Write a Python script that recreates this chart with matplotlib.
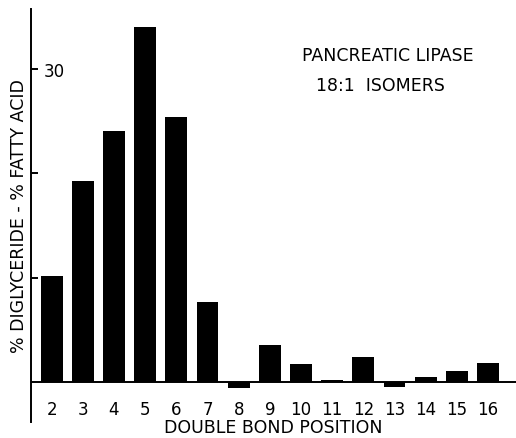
import numpy as np
import matplotlib
matplotlib.use('Agg')
import matplotlib.pyplot as plt

# double bond position of the 18:1 isomer
positions = [2, 3, 4, 5, 6, 7, 8, 9, 10, 11, 12, 13, 14, 15, 16]
# % diglyceride - % fatty acid
diff = [10.15, 19.25, 24.1, 34.0, 25.4, 7.7, -0.57, 3.6, 1.75, 0.25,
        2.45, -0.42, 0.48, 1.05, 1.82]
ytick_vals = [10, 20, 30]
ytick_labels = ['', '', '30']

plt.rcParams['font.family'] = 'DejaVu Sans'

fig = plt.figure(figsize=(5.16, 4.39), dpi=100)
ax = fig.add_axes([0.060, 0.0364, 0.94, 0.941])

ax.bar(positions, diff, width=0.70, color='black', zorder=2)
ax.axhline(0, color='black', lw=1.4, zorder=3)

ax.set_xlim(1.336, 16.9)
ax.set_ylim(-3.8, 35.75)

for s in ['top', 'right', 'bottom']:
    ax.spines[s].set_visible(False)
ax.spines['left'].set_linewidth(1.4)

ax.set_xticks(positions)
ax.set_xticklabels([str(p) for p in positions])
ax.tick_params(axis='x', length=0, pad=-15.5, labelsize=12)

ax.set_yticks(ytick_vals)
ax.set_yticklabels(ytick_labels)
ax.tick_params(axis='y', direction='in', length=5, width=1.4, pad=-9, labelsize=12)
for lab in ax.get_yticklabels():
    lab.set_horizontalalignment('left')

ax.set_xlabel('DOUBLE BOND POSITION', fontsize=12.5, labelpad=-3)
ax.set_ylabel('% DIGLYCERIDE - % FATTY ACID', fontsize=12.5)
ax.yaxis.set_label_coords(-0.006, 0.5)

ax.text(0.736, 0.889, 'PANCREATIC LIPASE', transform=ax.transAxes,
        ha='center', va='center', fontsize=12.5)
ax.text(0.72, 0.816, '18:1  ISOMERS', transform=ax.transAxes,
        ha='center', va='center', fontsize=12.5)

fig.savefig('out.png', dpi=100)
